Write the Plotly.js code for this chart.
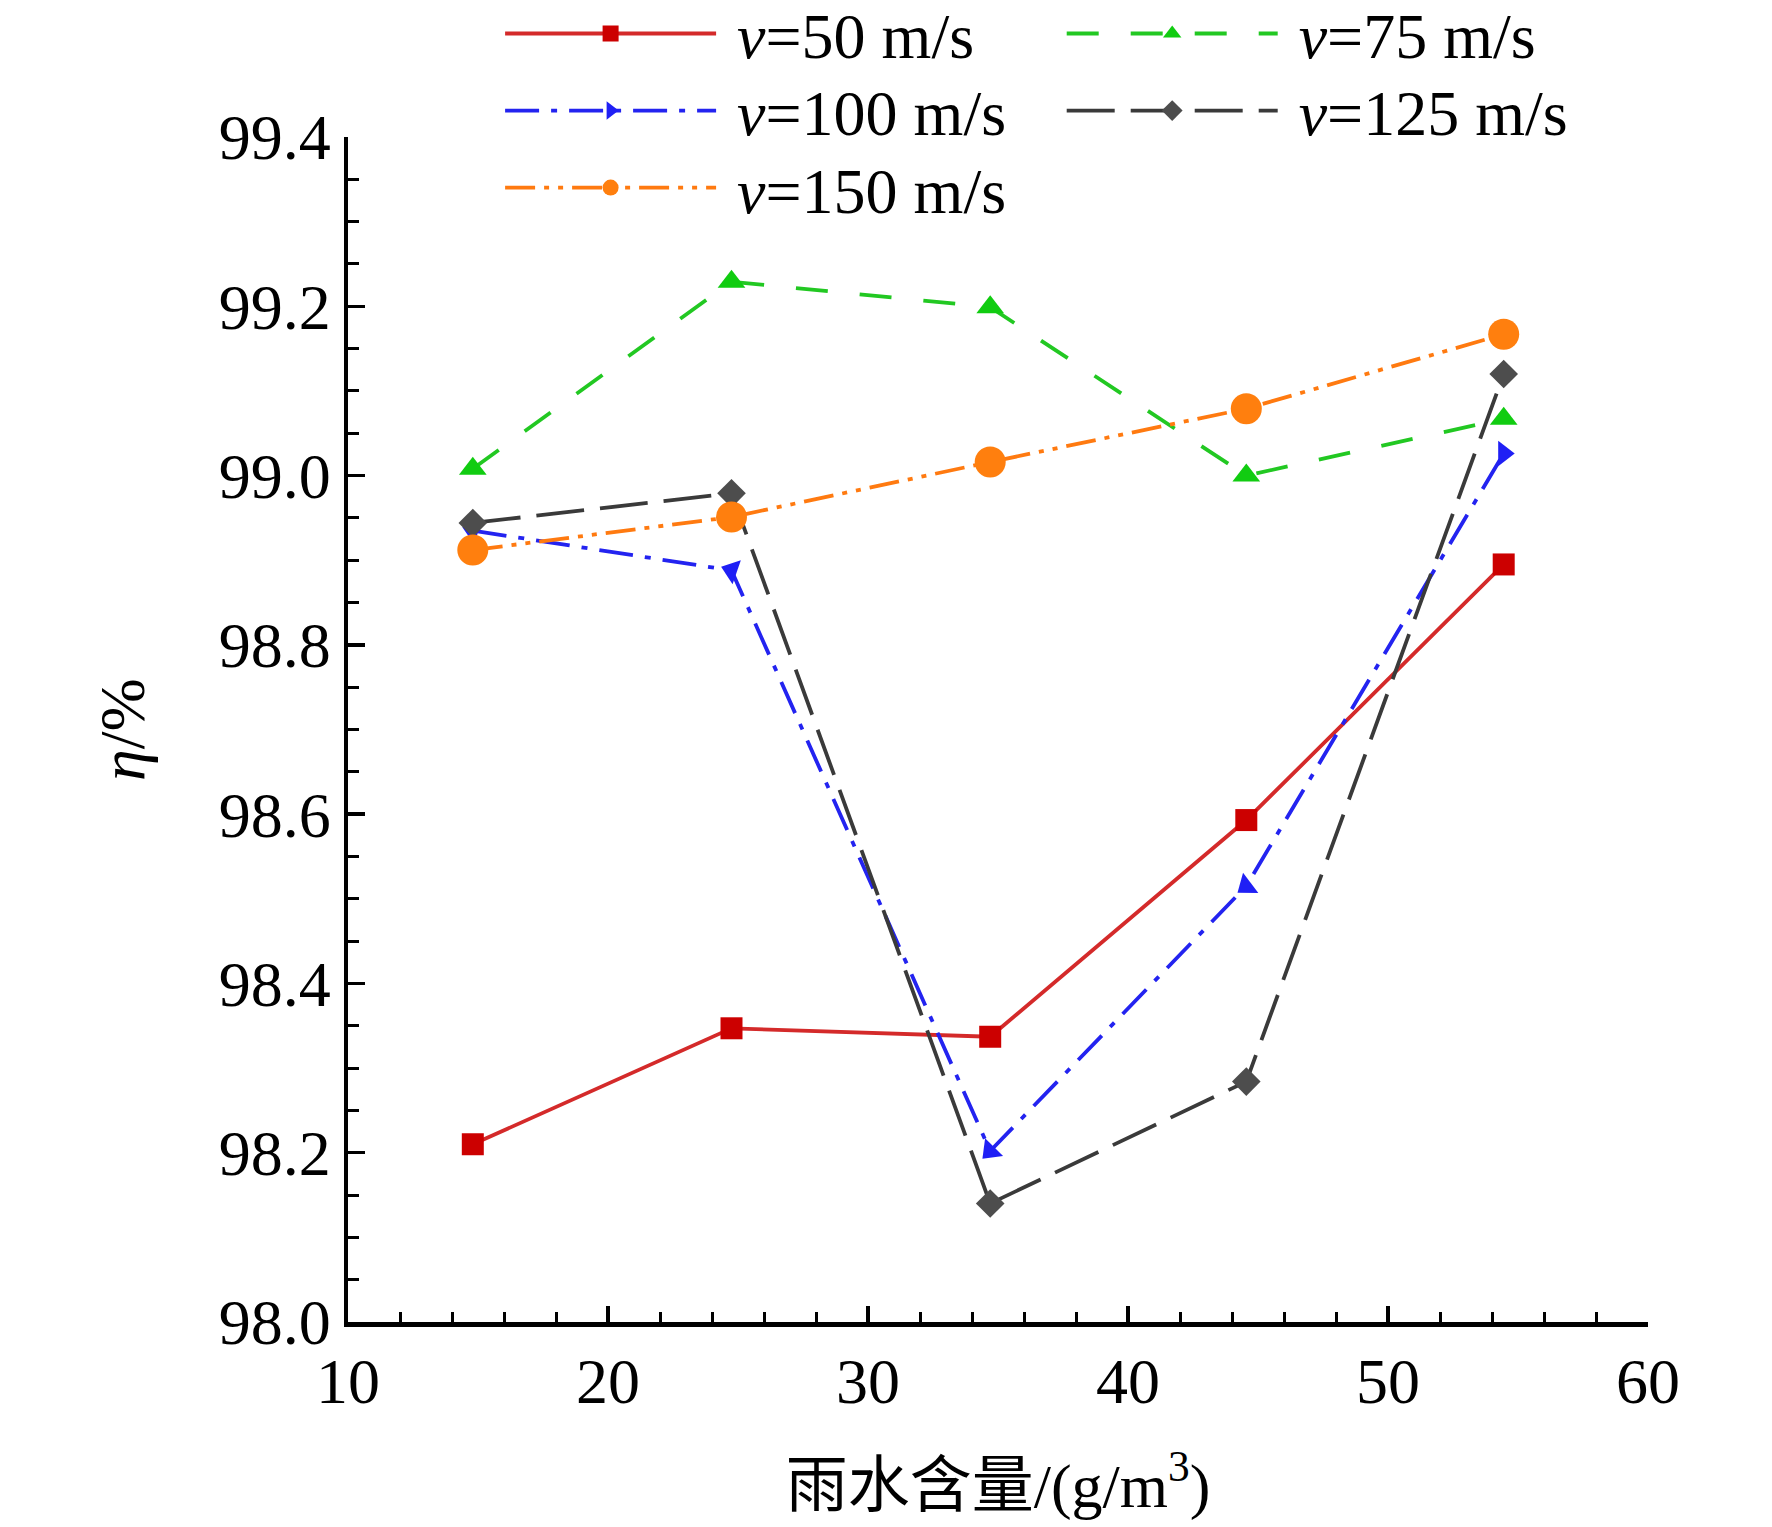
<!DOCTYPE html>
<html>
<head>
<meta charset="utf-8">
<script src="https://cdn.plot.ly/plotly-3.0.1.min.js"></script>
<style>
  html, body { margin: 0; padding: 0; background: #fff; }
  #chart { width: 1772px; height: 1527px; }
</style>
</head>
<body>
<div id="chart"></div>
<script>
// rain water content, g/m3
const rainContent = [14.8, 24.75, 34.7, 44.55, 54.45];

// separation efficiency (%) for each air speed
const eta50 = [98.21, 98.347, 98.337, 98.593, 98.895];
const eta75 = [99.008, 99.229, 99.199, 99.0, 99.067];
const eta100 = [98.935, 98.888, 98.202, 98.515, 99.026];
const eta125 = [98.944, 98.979, 98.14, 98.284, 99.12];
const eta150 = [98.912, 98.951, 99.016, 99.079, 99.167];

const seriesNames = ["50", "75", "100", "125", "150"];

const FONT = "Liberation Serif, Times New Roman, Noto Sans CJK SC, serif";

function legendName(v) {
	return "\u00a0<i>v</i>=" + v + " m/s";
}

const styles = [
	{ y: eta50, color: "#d42a2a", mcolor: "#cc0000", dash: "solid", symbol: "square", size: 22, legend: "legend" },
	{ y: eta75, color: "#22c822", mcolor: "#11cc11", dash: "32px,32px", symbol: "triangle-up", size: 24, legend: "legend2" },
	{ y: eta100, color: "#2323f0", mcolor: "#1f1ff5", dash: "34px,12px,6px,12px", symbol: "triangle-right", size: 22, legend: "legend3",
		angle: [198, 199, 135, 143, 0] },
	{ y: eta125, color: "#3a3a3a", mcolor: "#4d4d4d", dash: "48px,16px", symbol: "diamond", size: 22, legend: "legend4" },
	{ y: eta150, color: "#ff7a10", mcolor: "#ff7f0e", dash: "30px,9px,5px,9px,5px,9px", symbol: "circle", size: 31, legend: "legend5" },
];

const traces = [];
styles.forEach((s, i) => {
	const hasAngle = Array.isArray(s.angle);
	traces.push({
		x: rainContent,
		y: s.y,
		type: "scatter",
		mode: "lines+markers",
		name: legendName(seriesNames[i]),
		line: { color: s.color, width: 3.8, dash: s.dash },
		marker: {
			symbol: s.symbol,
			size: s.size,
			color: s.mcolor,
			angle: hasAngle ? s.angle : 0,
			line: { width: 0 },
		},
		legend: s.legend,
		showlegend: !hasAngle,
	});
	if (hasAngle) {
		// legend-only copy so the arrow points right in the key
		traces.push({
			x: [null],
			y: [null],
			type: "scatter",
			mode: "lines+markers",
			name: legendName(seriesNames[i]),
			line: { color: s.color, width: 3.8, dash: s.dash },
			marker: { symbol: s.symbol, size: s.size, color: s.mcolor, line: { width: 0 } },
			legend: s.legend,
			hoverinfo: "skip",
		});
	}
});

const legendBase = {
	bgcolor: "rgba(0,0,0,0)",
	borderwidth: 0,
	font: { family: FONT, size: 64, color: "#000" },
	itemwidth: 211,
	xanchor: "left",
	yanchor: "middle",
	xref: "paper",
	yref: "paper",
};

const layout = {
	width: 1772,
	height: 1527,
	paper_bgcolor: "#fff",
	plot_bgcolor: "#fff",
	margin: { l: 348, r: 124, t: 137, b: 205, autoexpand: false },
	showlegend: true,
	font: { family: FONT, size: 64, color: "#000" },
	xaxis: {
		range: [10, 60],
		dtick: 10,
		tick0: 10,
		showgrid: false,
		zeroline: false,
		showline: true,
		linecolor: "#000",
		linewidth: 4.5,
		ticks: "inside",
		ticklen: 16,
		tickwidth: 3.5,
		tickcolor: "#000",
		minor: { dtick: 2, ticks: "inside", ticklen: 10, tickwidth: 3, tickcolor: "#000" },
		tickfont: { family: FONT, size: 64, color: "#000" },
		title: {
			text: "雨水含量/(g/m<sup>3</sup>)",
			font: { family: FONT, size: 62, color: "#000" },
			standoff: 49,
		},
	},
	yaxis: {
		range: [98.0, 99.4],
		dtick: 0.2,
		tick0: 98.0,
		tickformat: ".1f",
		showgrid: false,
		zeroline: false,
		showline: true,
		linecolor: "#000",
		linewidth: 4.5,
		ticks: "inside",
		ticklen: 17,
		tickwidth: 3.5,
		tickcolor: "#000",
		minor: { dtick: 0.05, ticks: "inside", ticklen: 11, tickwidth: 3, tickcolor: "#000" },
		tickfont: { family: FONT, size: 64, color: "#000" },
		title: {
			text: "<i>η</i>/%",
			font: { family: FONT, size: 64, color: "#000" },
			standoff: 55,
		},
	},
	legend: { ...legendBase, x: 0.117, y: 1.087 },
	legend2: { ...legendBase, x: 0.549, y: 1.087 },
	legend3: { ...legendBase, x: 0.117, y: 1.022 },
	legend4: { ...legendBase, x: 0.549, y: 1.022 },
	legend5: { ...legendBase, x: 0.117, y: 0.957 },
};

Plotly.newPlot("chart", traces, layout, { displayModeBar: false, staticPlot: true });
</script>
</body>
</html>
